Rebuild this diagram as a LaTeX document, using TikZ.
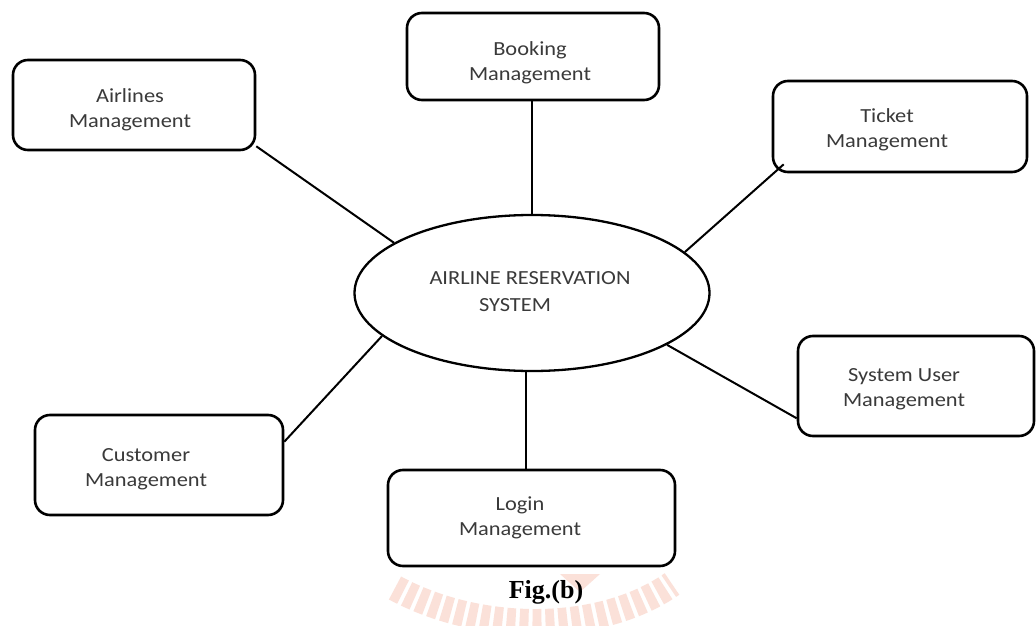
\documentclass[tikz,border=0pt]{standalone}
\usepackage{fontspec}
\usetikzlibrary{shapes.geometric}
\newfontfamily\lblfont{Carlito}[FakeStretch=1.12]
\newfontfamily\capfont{Liberation Serif}
\definecolor{txtgray}{HTML}{3A3A3A}
\definecolor{ropepink}{HTML}{FBE1D9}
\tikzset{
  mbox/.style={draw=black, line width=2.6pt, rounded corners=15pt, inner sep=0pt},
  lbl/.style={text=txtgray, font=\lblfont\fontsize{20}{25}\selectfont, align=center, inner sep=0pt},
  conn/.style={draw=black, line width=2pt},
  hub/.style={ellipse, draw=black, line width=2.3pt, inner sep=0pt, minimum width=355pt, minimum height=156pt}
}
\begin{document}
\begin{tikzpicture}[x=1pt, y=-1pt]
\useasboundingbox (0,0) rectangle (1036,626);
\fill[white] (0,0) rectangle (1036,626);
% faint watermark rope
\draw[ropepink, line width=26pt, dash pattern=on 9pt off 4pt] (395,588) .. controls (480,634) and (600,634) .. (672,584);
\fill[ropepink] (560,574) -- (600,574) -- (580,592) -- cycle;
% hub
\node[hub] (ars) at (532,293) {};
\node[lbl] (arst1) at (530,278) {AIRLINE RESERVATION};
\node[lbl] (arst2) at (515,305) {SYSTEM};
% boxes
\node[mbox, minimum width=242pt, minimum height=90pt] (air) at (134,105) {};
\node[lbl] (airt) at (130,110) {Airlines\\Management};
\node[mbox, minimum width=252pt, minimum height=87pt] (book) at (533,56.5) {};
\node[lbl] (bookt) at (530,63) {Booking\\Management};
\node[mbox, minimum width=254pt, minimum height=91pt] (tick) at (900,126.5) {};
\node[lbl] (tickt) at (887,130) {Ticket\\Management};
\node[mbox, minimum width=236pt, minimum height=100pt] (sys) at (916,386) {};
\node[lbl] (syst) at (904,389) {System User\\Management};
\node[mbox, minimum width=248pt, minimum height=100pt] (cust) at (159,465) {};
\node[lbl] (custt) at (146,469) {Customer\\Management};
\node[mbox, minimum width=287pt, minimum height=96pt] (login) at (531.5,518) {};
\node[lbl] (logint) at (520,518) {Login\\Management};
% connectors
\draw[conn] ([yshift=5pt]air.south east) -- (ars.160);
\draw[conn] (book.south -| 532,0) -- (ars.north -| 532,0);
\draw[conn] ([xshift=12pt,yshift=9pt]tick.south west) -- (ars.15);
\draw[conn] (ars.-21) -- ([yshift=19pt]sys.south west);
\draw[conn] ([yshift=-28pt]cust.north east) -- (ars.196);
\draw[conn] (ars.south -| 526,0) -- (login.north -| 526,0);
% caption
\node[font=\capfont\bfseries\fontsize{26}{30}\selectfont, inner sep=0pt] (cap) at (546,592) {Fig.(b)};
\end{tikzpicture}
\end{document}
